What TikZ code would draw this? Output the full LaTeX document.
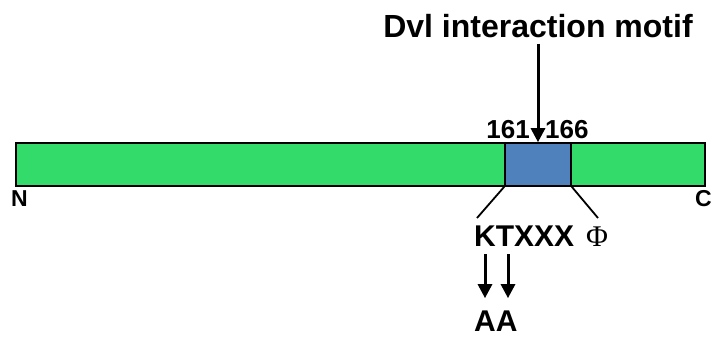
\documentclass[tikz,border=0pt]{standalone}
\usepackage{fontspec}
\setmainfont{Liberation Sans}
\newfontfamily\phifont{Liberation Serif}
\usetikzlibrary{arrows.meta, positioning}
\definecolor{DomainGreen}{HTML}{33DB6B}
\definecolor{MotifBlue}{HTML}{4F81BD}
\tikzset{
  % Box styles
  proteinbar/.style={rectangle, draw=black, line width=1.6pt, fill=DomainGreen, inner sep=0pt},
  motifbox/.style={rectangle, draw=black, line width=1.6pt, fill=MotifBlue, inner sep=0pt},
  % Text styles
  labeltext/.style={inner sep=0pt, font=\bfseries\fontsize{#1}{#1}\selectfont},
  labeltext/.default=25,
  % Arrow styles
  blackarrow/.style={-{Triangle[width=14pt, length=14pt]}, line width=3pt, black},
  thinline/.style={line width=1.8pt, black}
}
\begin{document}
\begin{tikzpicture}[x=1pt, y=-1pt]
  \useasboundingbox (0,0) rectangle (716,338);

  % Protein bar and motif
  \node[proteinbar, minimum width=689pt, minimum height=43pt] (bar) at (360.5,164.5) {};
  \node[motifbox, minimum width=66pt, minimum height=43pt] (motif) at (538,164.5) {};

  % Labels
  \node[labeltext=32, anchor=base] (title) at (538,37) {Dvl interaction motif};
  \node[labeltext=26, anchor=base east] (start) at (530,138) {161};
  \node[labeltext=26, anchor=base west] (stop) at (545,138) {166};
  \node[labeltext=23, anchor=base west] (nterm) at (11,206) {N};
  \node[labeltext=23, anchor=base west] (cterm) at (695,206) {C};
  \node[labeltext=30, anchor=base west] (seq) at (474,246) {KTXXX};
  \node[inner sep=0pt, font=\phifont\fontsize{30}{30}\selectfont, anchor=base west] (phi) at (586,246) {Φ};
  \node[labeltext=30, anchor=base west] (mut) at (474,331) {AA};

  % Connectors
  \coordinate (seqleft) at (477,218);
  \coordinate (seqright) at (598,218);
  \draw[blackarrow] ([yshift=-6pt]title.south) -- (motif.north);
  \draw[thinline] (motif.south west) -- (seqleft);
  \draw[thinline] (motif.south east) -- (seqright);
  \draw[blackarrow] ([xshift=11pt, yshift=-8pt]seq.south west) -- ([xshift=11pt, yshift=12pt]mut.north west);
  \draw[blackarrow] ([xshift=34pt, yshift=-8pt]seq.south west) -- ([xshift=34pt, yshift=12pt]mut.north west);
\end{tikzpicture}
\end{document}
